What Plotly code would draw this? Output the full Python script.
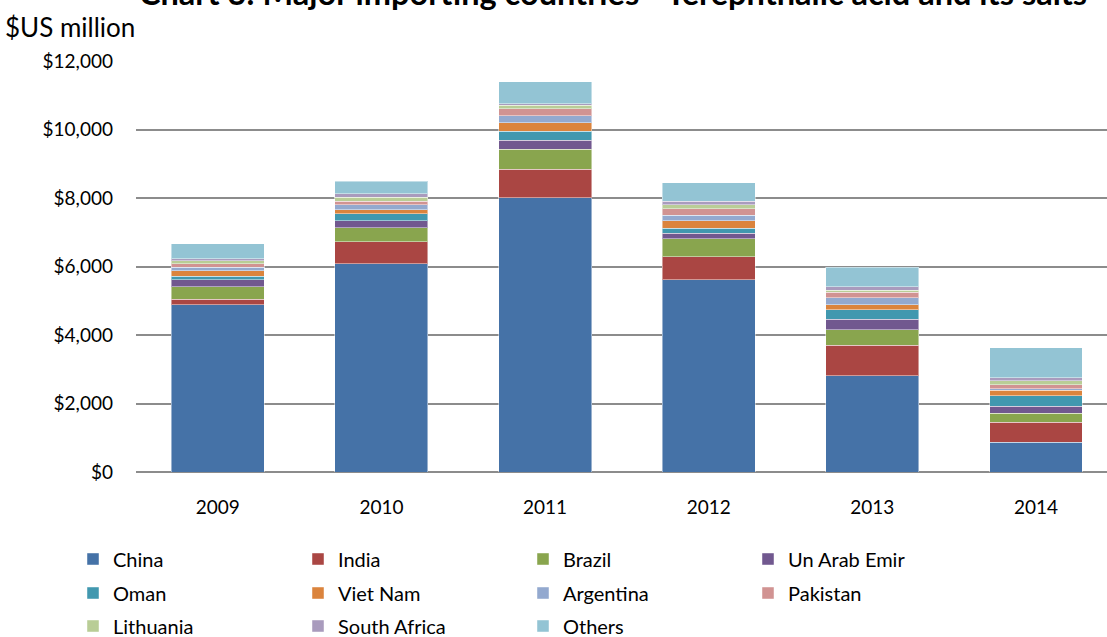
import plotly.graph_objects as go

years = ["2009", "2010", "2011", "2012", "2013", "2014"]

china = [4884, 6079, 8010, 5613, 2816, 874]
india = [163, 641, 825, 679, 883, 574]
brazil = [361, 408, 583, 524, 457, 271]
uae = [204, 204, 274, 154, 309, 195]
oman = [105, 204, 250, 146, 274, 309]
viet_nam = [157, 117, 253, 216, 146, 157]
argentina = [105, 146, 213, 163, 204, 58]
pakistan = [99, 105, 195, 195, 163, 105]
lithuania = [96, 117, 108, 117, 58, 117]
south_africa = [50, 99, 47, 96, 99, 87]
others = [437, 367, 641, 536, 571, 885]

series_names = ["China", "India", "Brazil", "Un Arab Emir", "Oman", "Viet Nam",
                "Argentina", "Pakistan", "Lithuania", "South Africa", "Others"]
series_values = [china, india, brazil, uae, oman, viet_nam, argentina, pakistan,
                 lithuania, south_africa, others]
colors = ["#4572A7", "#AA4643", "#89A54E", "#71588F", "#4198AF", "#DB843D",
          "#93A9CF", "#D19392", "#B9CD96", "#A99BBD", "#93C4D4"]
legend_rows = ["legend"] * 4 + ["legend2"] * 4 + ["legend3"] * 3

y_ticks = [0, 2000, 4000, 6000, 8000, 10000, 12000]
y_tick_labels = ["$0", "$2,000", "$4,000", "$6,000", "$8,000", "$10,000", "$12,000"]

FONT = "Lato, 'Open Sans', sans-serif"

fig = go.Figure()
for name, vals, col, lg in zip(series_names, series_values, colors, legend_rows):
    fig.add_trace(go.Bar(
        x=years, y=vals, name=name, legend=lg,
        marker=dict(color=col, line=dict(color="rgba(255,255,255,0.45)", width=1)),
    ))

W, H = 1107, 637
ML, MT, MB = 135.7, 61, 164.5


def legend_row(center_px):
    return dict(
        orientation="h", traceorder="normal",
        xref="container", yref="container",
        x=73 / W, xanchor="left", y=1 - center_px / H, yanchor="middle",
        entrywidth=180, entrywidthmode="pixels",
        font=dict(family=FONT, size=20, color="#000000"),
        itemwidth=30, bgcolor="rgba(0,0,0,0)",
    )


plot_w = W - ML
title_center_px = 613

fig.update_layout(
    barmode="stack",
    bargap=0.432,
    width=W, height=H,
    margin=dict(l=ML, r=0, t=MT, b=MB, autoexpand=False),
    paper_bgcolor="white", plot_bgcolor="white",
    font=dict(family=FONT, size=19, color="#000000"),
    xaxis=dict(
        range=[-0.5, 5.434],
        showgrid=False, showline=False, zeroline=False,
        ticks="", ticklabelstandoff=22,
        tickfont=dict(family=FONT, size=19),
    ),
    yaxis=dict(
        range=[0, 12000],
        tickvals=y_ticks, ticktext=y_tick_labels,
        showgrid=True, gridcolor="#8c8c8c", gridwidth=1.5,
        zeroline=True, zerolinecolor="#8c8c8c", zerolinewidth=1.5,
        showline=False, ticks="", ticklabelstandoff=22,
        tickfont=dict(family=FONT, size=19),
    ),
    legend=legend_row(559),
    legend2=legend_row(593),
    legend3=legend_row(626),
    annotations=[
        dict(
            text="<b>Chart 3: Major importing countries - Terephthalic acid and its salts</b>",
            xref="paper", yref="paper",
            x=(title_center_px - ML) / plot_w, y=1,
            xanchor="center", yanchor="bottom",
            yshift=47, showarrow=False,
            font=dict(family=FONT, size=32.5, color="#000000"),
        ),
        dict(
            text="$US million", xref="paper", yref="paper",
            x=0, y=1, xanchor="left", yanchor="middle",
            xshift=-133, yshift=34, showarrow=False,
            font=dict(family=FONT, size=26, color="#000000"),
        ),
    ],
)

fig.write_html(
    "out.html",
    config={"displayModeBar": False},
    post_script="document.body.style.margin='0';",
)
